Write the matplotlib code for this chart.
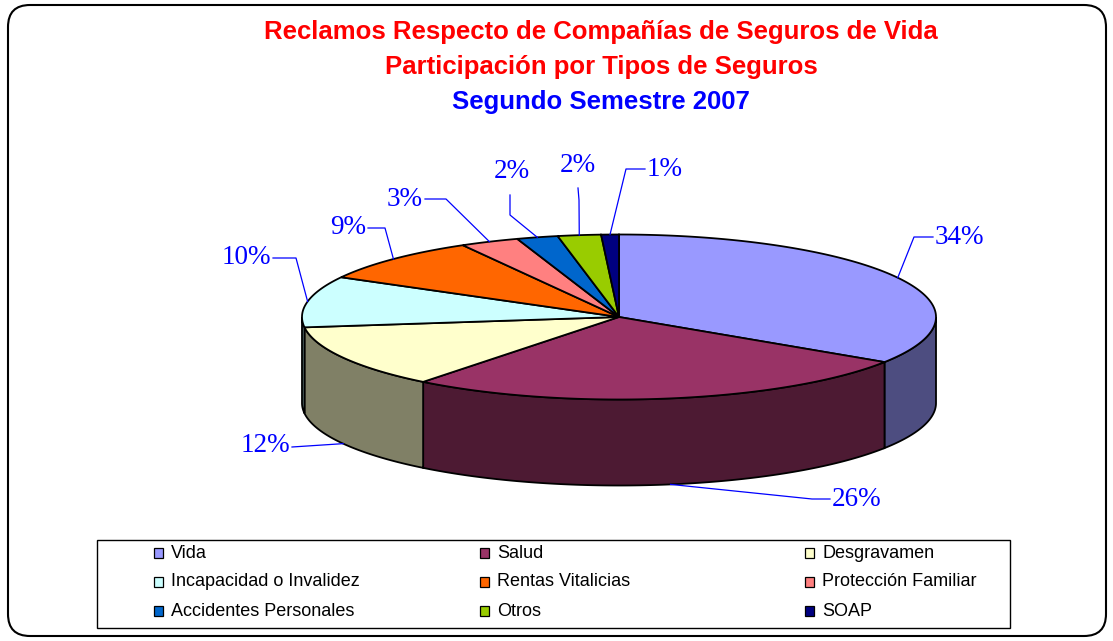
import numpy as np
import matplotlib
matplotlib.use("Agg")
from matplotlib import pyplot as plt
from matplotlib.patches import Polygon, FancyBboxPatch, Rectangle

# data
categories = ["Vida", "Salud", "Desgravamen", "Incapacidad o Invalidez", "Rentas Vitalicias",
              "Protección Familiar", "Accidentes Personales", "Otros", "SOAP"]
values = [34.2, 26.4, 12.4, 10.0, 8.8, 3.0, 2.1, 2.2, 0.9]
colors = ["#9999FF", "#993366", "#FFFFCC", "#CCFFFF", "#FF6600",
          "#FF8080", "#0066CC", "#99CC00", "#000080"]
title_lines = ["Reclamos Respecto de Compañías de Seguros de Vida",
               "Participación por Tipos de Seguros",
               "Segundo Semestre 2007"]

# geometry of the 3d pie (pixel coords)
cx, cy, rx, ry, depth = 619, 317, 317, 82.5, 86

# label layout: (elbow, end of horizontal, text pos, ha)
label_layout = [
    ((914, 237), (933, 237), (935, 238), "left"),
    ((812, 499), (830, 499), (832, 499), "left"),
    ((292, 447), (292, 447), (290, 446), "right"),
    ((296, 258), (273, 258), (271, 258), "right"),
    ((385, 228), (368, 228), (366, 227), "right"),
    ((446, 199), (425, 199), (423, 199), "right"),
    ((510, 215), (510, 195), (512, 172), "center"),
    ((579, 200), (578, 188), (578, 165), "center"),
    ((626, 169), (645, 169), (647, 169), "left"),
]


def pt(t, dy=0.0):
    return cx + rx * np.cos(t), cy - ry * np.sin(t) + dy


fig = plt.figure(figsize=(11.13, 6.41), dpi=100)
ax = fig.add_axes([0, 0, 1, 1])
ax.set_xlim(0, 1113)
ax.set_ylim(641, 0)
ax.axis("off")

# outer frame
ax.add_patch(FancyBboxPatch((8, 5), 1098, 631, boxstyle="round,pad=0,rounding_size=22",
                            fc="white", ec="black", lw=1.5, zorder=0))

frac = np.array(values) / sum(values)
bounds = np.radians(90 - 360 * np.concatenate([[0], np.cumsum(frac)]))

# side walls (front half only)
for i, c in enumerate(colors):
    t = np.linspace(bounds[i + 1], bounds[i], 400)
    m = np.sin(t) < 0
    if not m.any():
        continue
    idx = np.where(m)[0]
    runs = np.split(idx, np.where(np.diff(idx) > 1)[0] + 1)
    side = tuple(np.array(matplotlib.colors.to_rgb(c)) * 0.5)
    for r in runs:
        x, y = pt(t[r])
        xs = np.concatenate([x, x[::-1]])
        ys = np.concatenate([y, (y + depth)[::-1]])
        ax.add_patch(Polygon(np.column_stack([xs, ys]), closed=True, fc=side,
                             ec="black", lw=1.3, zorder=2))

# top faces
for i, c in enumerate(colors):
    t = np.linspace(bounds[i], bounds[i + 1], 200)
    x, y = pt(t)
    xs = np.concatenate([[cx], x])
    ys = np.concatenate([[cy], y])
    ax.add_patch(Polygon(np.column_stack([xs, ys]), closed=True, fc=c,
                         ec="black", lw=1.3, zorder=3))

# labels with leader lines
for i, v in enumerate(values):
    tm = (bounds[i] + bounds[i + 1]) / 2
    ax_, ay_ = pt(tm)
    if np.sin(tm) < 0:
        ay_ += depth
    (ex, ey), (hx, hy), (tx, ty), ha = label_layout[i]
    ax.plot([ax_, ex, hx], [ay_, ey, hy], color="#0000FF", lw=0.9, zorder=4)
    ax.text(tx, ty, f"{v:.0f}%", ha=ha, va="center", color="#0000FF",
            fontsize=19.5, family="Liberation Serif", zorder=5)

# title
for k, (line, col) in enumerate(zip(title_lines, ["#FF0000", "#FF0000", "#0000FF"])):
    ax.text(601, 32 + 35 * k, line, ha="center", va="center", color=col,
            fontsize=18.5, fontweight="bold", family="Liberation Sans")

# legend box, row-major, 3 columns
ax.add_patch(Rectangle((97, 540), 913, 88, fc="white", ec="black", lw=1.0, zorder=1))
col_x = [154, 480, 805]
row_y = [553, 582, 611]
for j, (name, c) in enumerate(zip(categories, colors)):
    x0, y0 = col_x[j % 3], row_y[j // 3]
    ax.add_patch(Rectangle((x0, y0 - 5), 9, 10, fc=c, ec="black", lw=0.9, zorder=2))
    ax.text(x0 + 17, y0, name, ha="left", va="center", fontsize=13,
            family="Liberation Sans", zorder=2)

fig.savefig("out.png", dpi=100)
